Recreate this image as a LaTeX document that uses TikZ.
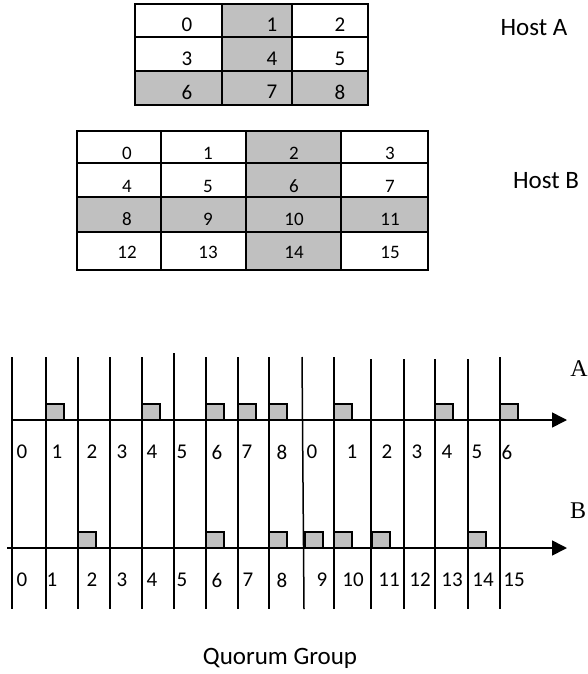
\documentclass[tikz,border=0pt]{standalone}
\usepackage{fontspec}
\setmainfont{Carlito}
\newfontfamily\axisfont{Liberation Serif}
\usetikzlibrary{arrows.meta}
\definecolor{cellgray}{RGB}{192,192,192}

\tikzset{
  gridline/.style={line width=2pt},
  tick/.style={line width=1.5pt},
  axis/.style={line width=1.6pt,-{Triangle[length=15pt,width=15pt]}},
  slotbox/.style={draw,line width=1.5pt,fill=cellgray},
  numA/.style={font=\fontsize{21}{21}\selectfont,inner sep=0pt},
  numB/.style={font=\fontsize{19}{19}\selectfont,inner sep=0pt},
  slotnum/.style={font=\fontsize{21}{21}\selectfont,inner sep=0pt},
  caption/.style={font=\fontsize{25}{25}\selectfont,inner sep=0pt},
  hostname/.style={font=\axisfont\fontsize{24}{24}\selectfont,inner sep=0pt}
}

\begin{document}
\begin{tikzpicture}[x=1pt,y=-1pt]
\useasboundingbox (0,0) rectangle (587,674);

% ---------- Host A grid (3 x 3) ----------
\fill[cellgray] (222,4) rectangle (292,105);
\fill[cellgray] (135,71) rectangle (368,105);
\draw[gridline] (135,4) rectangle (368,105);
\foreach \x in {222,292} \draw[gridline] (\x,4) -- (\x,105);
\foreach \y in {37,71} \draw[gridline] (135,\y) -- (368,\y);
\foreach \t/\x/\y in {0/187/25,1/272/25,2/340/25,
                      3/187/59,4/272/59,5/340/59,
                      6/187/92,7/272/92,8/340/92}
  \node[numA] (a\t) at (\x,\y) {\t};
\node[caption] (hostA) at (534,28) {Host A};

% ---------- Host B grid (4 x 4) ----------
\fill[cellgray] (246,131) rectangle (341,270);
\fill[cellgray] (77,197) rectangle (428,232);
\draw[gridline] (77,131) rectangle (428,270);
\foreach \x in {161,246,341} \draw[gridline] (\x,131) -- (\x,270);
\foreach \y in {163,197,232} \draw[gridline] (77,\y) -- (428,\y);
\foreach \t/\x/\y in {0/127/153,1/208/153,2/294/153,3/390/153,
                      4/127/186,5/208/186,6/294/186,7/390/186,
                      8/127/219,9/208/219,10/294/219,11/390/219,
                      12/127/252,13/208/252,14/294/252,15/390/252}
  \node[numB] (b\t) at (\x,\y) {\t};
\node[caption] (hostB) at (546,181) {Host B};

% ---------- slot boundaries shared by both time lines ----------
\foreach \x in {12,46,78,110,142,206,238,269,334,500}
  \draw[tick] (\x,357) -- (\x,609);
\draw[tick] (174,353) -- (174,609);
\foreach \x in {371,404,435,468}
  \draw[tick] (\x,359) -- (\x,609);
\draw[tick] (302,357) -- (304,609);

% ---------- time line A ----------
\coordinate (axA0) at (12,420);
\coordinate (axA1) at (567,420);
\foreach \x in {46,142,206,238,269,334,435,500}
  \draw[slotbox] (\x,420) rectangle ++(18,-16);
\draw[axis] (axA0) -- (axA1);
\foreach \t/\x [count=\i] in {0/22,1/57,2/92,3/122,4/152,5/182,6/217,7/247,8/282,
                              0/312,1/352,2/387,3/417,4/447,5/477,6/507}
  \node[slotnum] (sa\i) at (\x,452) {\t};
\node[hostname] (labA) at (579,369) {A};

% ---------- time line B ----------
\coordinate (axB0) at (7,548);
\coordinate (axB1) at (567,548);
\foreach \x in {78,206,269,305,334,372,468}
  \draw[slotbox] (\x,548) rectangle ++(18,-16);
\draw[axis] (axB0) -- (axB1);
\foreach \t/\x [count=\i] in {0/22,1/52,2/92,3/122,4/152,5/182,6/217,7/248,8/282,
                              9/322,10/353,11/389,12/420,13/452,14/483,15/514}
  \node[slotnum] (sb\i) at (\x,580) {\t};
\node[hostname] (labB) at (578,511) {B};

% ---------- caption ----------
\node[caption] (quorum) at (280,658) {Quorum Group};
\end{tikzpicture}
\end{document}
